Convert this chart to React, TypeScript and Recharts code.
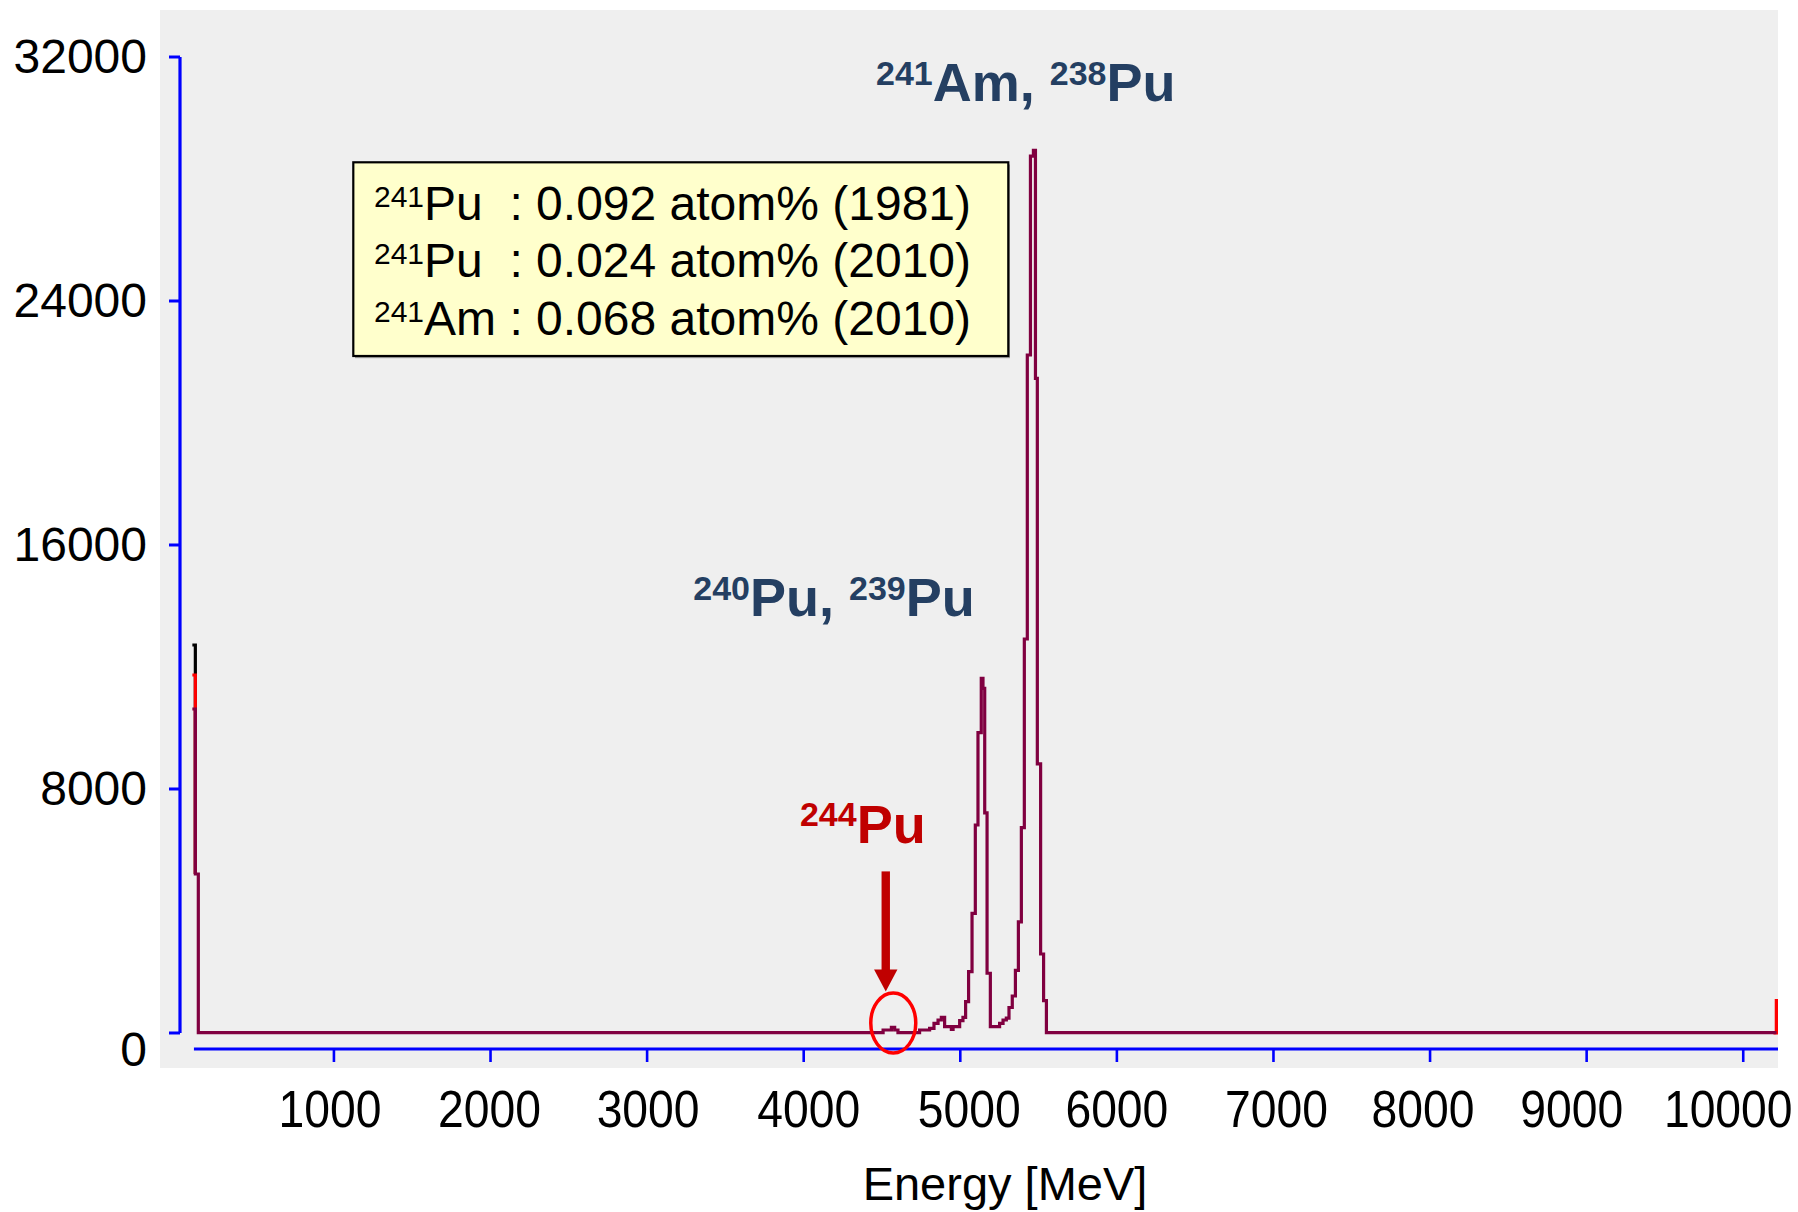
import React from 'react';
import { LineChart, Line, XAxis, YAxis, ReferenceLine, ReferenceDot } from 'recharts';

// ---- spectrum data (bin start energy, counts), drawn as a step histogram ----
const purpleEnergy = [
  96, 115, 134, 4507, 4560, 4581, 4602, 4740, 4804, 4832, 4858, 4879, 4900, 4943, 4954, 4996, 5017,
  5034, 5053, 5075, 5096, 5113, 5134, 5145, 5156, 5171, 5192, 5251, 5273, 5294, 5311, 5332, 5352,
  5371, 5390, 5409, 5428, 5448, 5467, 5480, 5492, 5513, 5532, 5550, 10212,
];
const purpleCounts = [
  10623, 5213, 10, 98, 186, 98, 10, 98, 154, 318, 426, 514, 207, 121, 207, 404, 514,
  1028, 2010, 3924, 6820, 9846, 11630, 11300, 7217, 1958, 207, 318, 426, 490, 836, 1213, 2052,
  3640, 6734, 12918, 22230, 28750, 28940, 21460, 8826, 2590, 1062, 10, 10,
];
const blackEnergy = [96, 115];
const blackCounts = [12721, 5213];
const redStartEnergy = [96, 115];
const redStartCounts = [11738, 5213];
const redEndEnergy = [10193, 10212];
const redEndCounts = [10, 1115];

const xTicks = [1000, 2000, 3000, 4000, 5000, 6000, 7000, 8000, 9000, 10000];
const yTicks = [0, 8000, 16000, 24000, 32000];

const legendIso = ['241', '241', '241'];
const legendElement = ['Pu  ', 'Pu  ', 'Am '];
const legendValue = ['0.092', '0.024', '0.068'];
const legendYear = ['1981', '2010', '2010'];

const peakLabels = [
  { e: 4462, c: 30544, color: '#243f62', parts: [['241', true], ['Am, ', false], ['238', true], ['Pu', false]] },
  { e: 3295, c: 13659, color: '#243f62', parts: [['240', true], ['Pu, ', false], ['239', true], ['Pu', false]] },
  { e: 3976, c: 6230, color: '#c00000', parts: [['244', true], ['Pu', false]] },
];
const arrowPoint = { e: 4524, from: 5298, to: 1364 };
const circlePoint = { e: 4572, c: 328 };

const xLabelShift: Record<number, number> = {
  1000: -4, 2000: -1, 3000: 1, 4000: 5, 5000: 9, 6000: 0, 7000: 3, 8000: -7, 9000: -15, 10000: -15,
};

const FONT = '"Liberation Sans", Arial, Helvetica, sans-serif';
const BLUE = '#0000ff';
const PURPLE = '#800040';

const toRows = (e: number[], c: number[]) => e.map((v, i) => ({ e: v, c: c[i] }));

const XTick = (props: any) => {
  const { x, y, payload } = props;
  const shift = xLabelShift[payload.value] ?? 0;
  return (
    <g transform={`translate(${x + shift},${y + 63}) scale(0.89,1)`}>
      <text x={0} y={0} textAnchor="middle" fontFamily={FONT} fontSize={52} fill="#000">
        {payload.value}
      </text>
    </g>
  );
};

const YTick = (props: any) => {
  const { x, y, payload } = props;
  return (
    <text x={x - 20} y={y + (payload.value === 0 ? 33 : 16)} textAnchor="end" fontFamily={FONT} fontSize={48} fill="#000">
      {payload.value}
    </text>
  );
};

const XTitle = (props: any) => {
  const vb = props.viewBox || { x: 180, y: 1049, width: 1598, height: 163 };
  return (
    <text x={vb.x + vb.width / 2 + 26} y={vb.y + 151} textAnchor="middle" fontFamily={FONT} fontSize={47} fill="#000">
      Energy [MeV]
    </text>
  );
};

const PeakLabel = ({ cx, cy, parts, color }: any) => (
  <text x={cx} y={cy} fill={color} fontFamily={FONT} fontWeight="bold" style={{ whiteSpace: 'pre' }}>
    {parts.map((pt: any, i: number) => {
      const sup = pt[1];
      const prevSup = i > 0 && parts[i - 1][1];
      const dy = sup ? (prevSup ? 0 : -16.5) : prevSup ? 16.5 : 0;
      return (
        <tspan key={i} fontSize={sup ? 34 : 54} dy={dy}>
          {pt[0]}
        </tspan>
      );
    })}
  </text>
);

const ArrowShape = (p: any) => {
  const x = p.x1;
  const top = Math.min(p.y1, p.y2);
  const tip = Math.max(p.y1, p.y2);
  const headLen = 22;
  const base = tip - headLen;
  return (
    <g>
      <rect x={x - 4.2} y={top} width={8.4} height={base - top + 1} fill="#c00000" />
      <polygon points={`${x - 11.7},${base} ${x + 11.7},${base} ${x},${tip}`} fill="#c00000" />
    </g>
  );
};

export default function App() {
  return (
    <div style={{ position: 'absolute', left: 0, top: 0, width: 1798, height: 1212, background: '#ffffff', overflow: 'hidden' }}>
      <div style={{ position: 'absolute', left: 160, top: 10, width: 1618, height: 1058, background: '#efefef' }} />
      <div style={{ position: 'absolute', left: 0, top: 0 }}>
        <LineChart width={1798} height={1212} margin={{ top: 57, right: 20, bottom: 0, left: 0 }}>
          <XAxis
            type="number"
            dataKey="e"
            domain={[17, 10222]}
            allowDataOverflow
            ticks={xTicks}
            axisLine={false}
            stroke={BLUE}
            tickLine={{ stroke: BLUE, strokeWidth: 2.6 }}
            tickSize={13}
            height={163}
            tick={(p: any) => <XTick {...p} />}
            label={<XTitle />}
          />
          <YAxis
            type="number"
            domain={[-525, 32000]}
            allowDataOverflow
            ticks={yTicks}
            width={180}
            axisLine={false}
            stroke={BLUE}
            tickLine={{ stroke: BLUE, strokeWidth: 3 }}
            tickSize={11}
            tick={(p: any) => <YTick {...p} />}
          />
          <ReferenceLine
            segment={[{ x: 17, y: 0 }, { x: 17, y: 32000 }]}
            stroke={BLUE}
            strokeWidth={3.2}
            ifOverflow="visible"
          />
          <ReferenceLine
            segment={[{ x: 106, y: -525 }, { x: 10222, y: -525 }]}
            stroke={BLUE}
            strokeWidth={3.2}
            ifOverflow="visible"
          />
          <Line data={toRows(blackEnergy, blackCounts)} dataKey="c" type="stepAfter" stroke="#000000" strokeWidth={3.2} dot={false} activeDot={false} isAnimationActive={false} />
          <Line data={toRows(redStartEnergy, redStartCounts)} dataKey="c" type="stepAfter" stroke="#ff0000" strokeWidth={3.2} dot={false} activeDot={false} isAnimationActive={false} />
          <Line data={toRows(redEndEnergy, redEndCounts)} dataKey="c" type="stepAfter" stroke="#ff0000" strokeWidth={3.4} dot={false} activeDot={false} isAnimationActive={false} />
          <Line data={toRows(purpleEnergy, purpleCounts)} dataKey="c" type="stepAfter" stroke={PURPLE} strokeWidth={3.2} dot={false} activeDot={false} isAnimationActive={false} />
          <ReferenceLine
            segment={[{ x: arrowPoint.e, y: arrowPoint.from }, { x: arrowPoint.e, y: arrowPoint.to }]}
            ifOverflow="visible"
            shape={(p: any) => <ArrowShape {...p} />}
          />
          <ReferenceDot
            x={circlePoint.e}
            y={circlePoint.c}
            r={1}
            ifOverflow="visible"
            shape={(p: any) => <ellipse cx={p.cx} cy={p.cy} rx={22.5} ry={30} fill="none" stroke="#ff0000" strokeWidth={3.5} />}
          />
          {peakLabels.map((lb, i) => (
            <ReferenceDot
              key={i}
              x={lb.e}
              y={lb.c}
              r={1}
              ifOverflow="visible"
              shape={(p: any) => <PeakLabel cx={p.cx} cy={p.cy} parts={lb.parts} color={lb.color} />}
            />
          ))}
        </LineChart>
      </div>
      <svg style={{ position: 'absolute', left: 0, top: 0, pointerEvents: 'none' }} width={1798} height={1212}>
        <rect x={355} y={164.5} width={655} height={193.7} fill="#a0a0a0" />
        <rect x={353.3} y={162.3} width={655} height={193.7} fill="#ffffcc" stroke="#000" strokeWidth={2.2} />
        {legendIso.map((iso, i) => (
          <text key={i} x={374} y={219.5 + i * 57.5} fontFamily={FONT} fontSize={48} fill="#000" style={{ whiteSpace: 'pre' }}>
            <tspan fontSize={30} dy={-13}>{iso}</tspan>
            <tspan dy={13}>{`${legendElement[i]}: ${legendValue[i]} atom% (${legendYear[i]})`}</tspan>
          </text>
        ))}
      </svg>
    </div>
  );
}
